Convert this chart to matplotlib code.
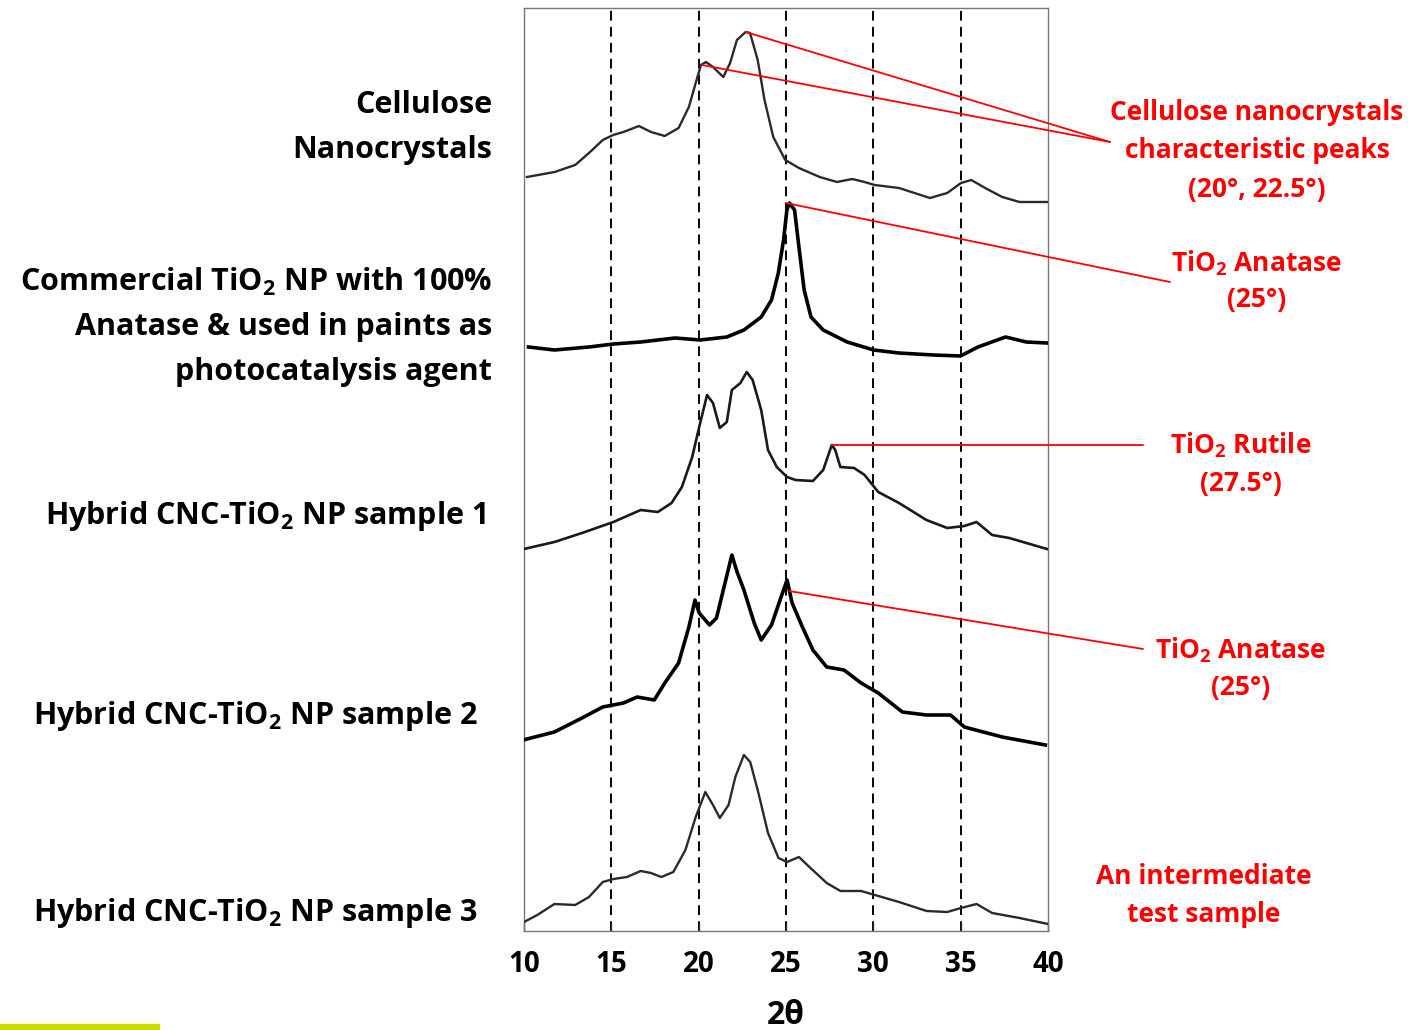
import numpy as np
import matplotlib
matplotlib.use("Agg")
import matplotlib.pyplot as plt
from matplotlib.patches import Rectangle

plt.rcParams['font.family'] = ['Open Sans', 'DejaVu Sans']
plt.rcParams['font.weight'] = 'bold'
plt.rcParams['mathtext.fontset'] = 'custom'
plt.rcParams['mathtext.rm'] = 'Open Sans:bold'
plt.rcParams['mathtext.default'] = 'rm'
plt.rcParams['lines.scale_dashes'] = False

# 2theta (deg) and stacked intensity (a.u.)
cnc_x = [10.17, 11.75, 12.93, 13.72, 14.51, 15.10, 15.69, 16.58, 17.27, 18.06, 18.85, 19.44,
         19.83, 20.13, 20.42, 20.82, 21.41, 21.80, 22.19, 22.69, 22.94, 23.38, 23.77, 24.27,
         24.96, 25.74, 26.93, 27.91, 28.80, 29.49, 30.08, 31.47, 33.24, 34.23, 35.02, 35.61,
         36.40, 37.38, 38.37, 39.94]
cnc_y = [754, 759, 766, 778, 791, 796, 799, 805, 799, 795, 803, 824,
         848, 866, 869, 864, 854, 868, 891, 899, 898, 871, 831, 794,
         771, 763, 754, 749, 752, 749, 746, 743, 733, 738, 748, 751,
         743, 734, 729, 729]

tio2_x = [10.26, 11.74, 13.72, 15.12, 16.68, 18.65, 20.09, 21.61, 22.59, 23.58, 24.17, 24.56,
          24.86, 25.05, 25.20, 25.49, 25.74, 26.04, 26.43, 27.13, 28.50, 30.02, 31.46, 33.43,
          34.99, 35.99, 37.57, 38.76, 39.94]
tio2_y = [584, 581, 584, 587, 589, 593, 591, 594, 601, 614, 631, 658,
          691, 721, 728, 721, 684, 641, 614, 601, 589, 581, 578, 576,
          575, 584, 594, 589, 588]

s1_x = [10.0, 11.74, 13.32, 15.12, 16.68, 17.66, 18.45, 19.04, 19.63, 20.03, 20.48, 20.82,
        21.21, 21.61, 21.90, 22.39, 22.75, 23.09, 23.58, 23.97, 24.47, 25.06, 25.55, 26.54,
        27.13, 27.62, 27.82, 28.11, 28.90, 29.50, 30.28, 31.47, 33.04, 34.23, 35.21, 35.91,
        36.80, 37.78, 39.94]
s1_y = [382, 389, 398, 409, 421, 419, 428, 444, 474, 504, 536, 528,
        503, 509, 541, 548, 559, 551, 521, 481, 464, 454, 451, 450,
        461, 486, 481, 464, 463, 456, 439, 428, 411, 403, 405, 409,
        396, 393, 382]

s2_x = [9.95, 11.74, 13.32, 14.51, 15.69, 16.48, 17.46, 18.06, 18.85, 19.44, 19.79, 20.03,
        20.62, 21.02, 21.41, 21.90, 22.20, 22.59, 23.18, 23.58, 24.17, 24.66, 25.06, 25.35,
        25.94, 26.54, 27.33, 28.32, 29.30, 30.28, 31.66, 33.04, 34.42, 35.21, 37.38, 39.85]
s2_y = [191, 199, 213, 224, 228, 234, 231, 248, 268, 304, 331, 318,
        306, 313, 341, 376, 359, 341, 308, 291, 306, 331, 351, 328,
        304, 281, 264, 261, 248, 238, 219, 216, 216, 204, 194, 186]

s3_x = [10.0, 10.76, 11.74, 12.93, 13.72, 14.51, 15.12, 15.89, 16.68, 17.27, 17.86, 18.55,
        19.24, 19.83, 20.38, 20.82, 21.21, 21.71, 22.10, 22.59, 22.95, 23.38, 23.97, 24.57,
        25.06, 25.74, 26.34, 27.33, 28.12, 29.30, 30.09, 31.47, 33.05, 34.23, 35.02, 35.91,
        36.80, 38.37, 40.0]
s3_y = [9, 16, 27, 26, 34, 49, 52, 54, 60, 58, 54, 59,
        81, 114, 139, 126, 113, 126, 154, 176, 169, 141, 98, 73,
        69, 74, 64, 48, 40, 40, 36, 29, 20, 19, 23, 27,
        18, 13, 7]

ref_lines = [15, 20, 25, 30, 35]
xticks = [10, 15, 20, 25, 30, 35, 40]

W, H = 1408, 1030
fig = plt.figure(figsize=(W / 100, H / 100), dpi=100)
ax = fig.add_axes([524 / W, (H - 931) / H, 524 / W, 923 / H])
ax.set_xlim(10, 40)
ax.set_ylim(0, 923)

for xv in ref_lines:
    ax.axvline(xv, color='black', lw=1.4, dashes=(7, 4.5), zorder=1)

ax.plot(cnc_x, cnc_y, color='#2a2a2a', lw=1.7, zorder=3)
ax.plot(tio2_x, tio2_y, color='black', lw=2.6, zorder=3)
ax.plot(s1_x, s1_y, color='#1a1a1a', lw=1.9, zorder=3)
ax.plot(s2_x, s2_y, color='black', lw=2.6, zorder=3)
ax.plot(s3_x, s3_y, color='#2a2a2a', lw=1.7, zorder=3)

for sp in ax.spines.values():
    sp.set_color('#777777')
    sp.set_linewidth(1.0)
ax.set_yticks([])
ax.set_xticks(xticks)
ax.tick_params(axis='x', direction='in', length=6, width=1, color='#333333',
               labelsize=20, pad=14)
for lab in ax.get_xticklabels():
    lab.set_fontweight('bold')
fig.text(786 / W, 1 - 1015 / H, '2θ', ha='center', va='center', fontsize=23,
         fontweight='bold')


def fpix(x, y):
    return (x, H - y)


red = '#ff0000'
line_kw = dict(arrowstyle='-', color=red, lw=1.3, shrinkA=0, shrinkB=0)

# annotation leaders from peaks to the labels
i = int(np.argmax(cnc_y))
ax.annotate('', xy=(cnc_x[i], cnc_y[i]), xytext=fpix(1110, 142),
            textcoords='figure pixels', arrowprops=line_kw, annotation_clip=False)
j = cnc_x.index(20.42)
ax.annotate('', xy=(20.2, cnc_y[j] - 3), xytext=fpix(1110, 142),
            textcoords='figure pixels', arrowprops=line_kw, annotation_clip=False)
k = int(np.argmax(tio2_y))
ax.annotate('', xy=(tio2_x[k] - 0.2, tio2_y[k]), xytext=fpix(1170, 282),
            textcoords='figure pixels', arrowprops=line_kw, annotation_clip=False)
r = s1_x.index(27.62)
ax.annotate('', xy=(s1_x[r], s1_y[r]), xytext=fpix(1143, 931 - s1_y[r]),
            textcoords='figure pixels', arrowprops=line_kw, annotation_clip=False)
ax.annotate('', xy=(25.2, np.interp(25.2, s2_x, s2_y)), xytext=fpix(1143, 649),
            textcoords='figure pixels', arrowprops=line_kw, annotation_clip=False)

# left labels
left_labels = [
    ('Cellulose', 492, 105),
    ('Nanocrystals', 492, 150),
    ('Commercial TiO$_2$ NP with 100%', 492, 282),
    ('Anatase & used in paints as', 492, 327),
    ('photocatalysis agent', 492, 372),
    ('Hybrid CNC-TiO$_2$ NP sample 1', 486, 516),
    ('Hybrid CNC-TiO$_2$ NP sample 2', 478, 716),
    ('Hybrid CNC-TiO$_2$ NP sample 3', 478, 913),
]
for txt, x, y in left_labels:
    fig.text(x / W, 1 - y / H, txt, ha='right', va='center', fontsize=22,
             fontweight='bold', color='black')

red_labels = [
    ('Cellulose nanocrystals', 1257, 112),
    ('characteristic peaks', 1257, 151),
    ('(20°, 22.5°)', 1257, 189),
    ('TiO$_2$ Anatase', 1257, 263),
    ('(25°)', 1257, 300),
    ('TiO$_2$ Rutile', 1241, 445),
    ('(27.5°)', 1241, 484),
    ('TiO$_2$ Anatase', 1241, 650),
    ('(25°)', 1241, 688),
    ('An intermediate', 1204, 877),
    ('test sample', 1204, 914),
]
for txt, x, y in red_labels:
    fig.text(x / W, 1 - y / H, txt, ha='center', va='center', fontsize=19,
             fontweight='bold', color=red)

fig.patches.append(Rectangle((0, 0), 159 / W, 6 / H, transform=fig.transFigure,
                             color='#c8dc00', zorder=0))

fig.savefig('out.png', dpi=100)
